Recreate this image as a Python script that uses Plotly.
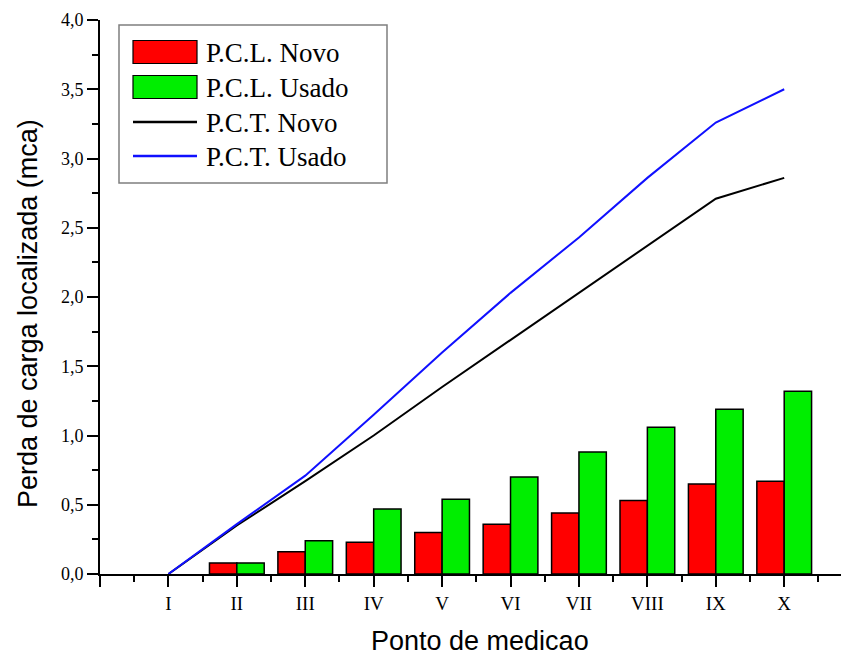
import plotly.graph_objects as go

# Measurement points (Roman numerals) and their positions on the x axis
pontos = ["I", "II", "III", "IV", "V", "VI", "VII", "VIII", "IX", "X"]
posicoes = [1, 2, 3, 4, 5, 6, 7, 8, 9, 10]

# Localized head loss per point (mca) - bars
pcl_novo = [None, 0.08, 0.16, 0.23, 0.30, 0.36, 0.44, 0.53, 0.65, 0.67]
pcl_usado = [None, 0.08, 0.24, 0.47, 0.54, 0.70, 0.88, 1.06, 1.19, 1.32]

# Cumulative head loss (mca) - lines
pct_novo = [0.0, 0.35, 0.67, 1.00, 1.35, 1.69, 2.03, 2.37, 2.71, 2.86]
pct_usado = [0.0, 0.36, 0.71, 1.15, 1.60, 2.03, 2.43, 2.86, 3.26, 3.50]

SERIF = "Liberation Serif, Times New Roman, serif"
SANS = "Liberation Sans, Arial, sans-serif"

W, H = 841, 656
L, R, T, B = 100, 0, 20, 82

fig = go.Figure()

fig.add_trace(go.Bar(
    x=posicoes, y=pcl_novo, name="P.C.L. Novo", offsetgroup="novo",
    marker=dict(color="#ff0000", line=dict(color="#000000", width=1.5)),
))
fig.add_trace(go.Bar(
    x=posicoes, y=pcl_usado, name="P.C.L. Usado", offsetgroup="usado",
    marker=dict(color="#00ee00", line=dict(color="#000000", width=1.5)),
))
fig.add_trace(go.Scatter(
    x=posicoes, y=pct_novo, name="P.C.T. Novo", mode="lines",
    line=dict(color="#000000", width=2),
))
fig.add_trace(go.Scatter(
    x=posicoes, y=pct_usado, name="P.C.T. Usado", mode="lines",
    line=dict(color="#1010ff", width=2),
))


# Helpers converting pixel positions to paper coordinates (plot area)
def pxx(x):
    return (x - L) / (W - L - R)


def pxy(y):
    return (H - B - y) / (H - T - B)


# Hand-drawn legend box
shapes = [dict(type="rect", xref="paper", yref="paper",
               x0=pxx(119), x1=pxx(387), y0=pxy(183), y1=pxy(25),
               fillcolor="white", line=dict(color="#7f7f7f", width=1.5))]
annotations = []
legend_rows = [
    ("bar", "#ff0000", "P.C.L. Novo", 52),
    ("bar", "#00ee00", "P.C.L. Usado", 87),
    ("line", "#000000", "P.C.T. Novo", 122),
    ("line", "#1010ff", "P.C.T. Usado", 156),
]
for kind, color, label, yc in legend_rows:
    if kind == "bar":
        shapes.append(dict(type="rect", xref="paper", yref="paper",
                           x0=pxx(133), x1=pxx(197), y0=pxy(yc + 11.5), y1=pxy(yc - 11.5),
                           fillcolor=color, line=dict(color="#000000", width=1.2)))
    else:
        shapes.append(dict(type="line", xref="paper", yref="paper",
                           x0=pxx(133), x1=pxx(197), y0=pxy(yc), y1=pxy(yc),
                           line=dict(color=color, width=2.5)))
    annotations.append(dict(xref="paper", yref="paper", x=pxx(204), y=pxy(yc + 1),
                            xanchor="left", yanchor="middle", showarrow=False,
                            text=label, font=dict(family=SERIF, size=27, color="#000000")))

# Axis titles
annotations.append(dict(xref="paper", yref="paper", x=pxx(480), y=pxy(641),
                        xanchor="center", yanchor="middle", showarrow=False,
                        text="Ponto de medicao",
                        font=dict(family=SANS, size=27, color="#000000")))
annotations.append(dict(xref="paper", yref="paper", x=pxx(28), y=pxy(314),
                        xanchor="center", yanchor="middle", showarrow=False,
                        textangle=-90, text="Perda de carga localizada (mca)",
                        font=dict(family=SANS, size=27, color="#000000")))

fig.update_layout(
    width=W, height=H,
    margin=dict(l=L, r=R, t=T, b=B, pad=0),
    paper_bgcolor="white", plot_bgcolor="white",
    barmode="group", bargap=0.2, bargroupgap=0.0,
    separators=", ",
    showlegend=False,
    shapes=shapes,
    annotations=annotations,
    xaxis=dict(
        range=[0, 10.83],
        tickmode="array", tickvals=[0] + posicoes, ticktext=[""] + pontos,
        ticks="outside", ticklen=11, tickwidth=1.5, tickcolor="#000000",
        minor=dict(tickmode="array", tickvals=[p - 0.5 for p in posicoes] + [10.5],
                   ticks="outside", ticklen=6, tickwidth=1.5, tickcolor="#000000"),
        showline=True, linecolor="#000000", linewidth=2,
        showgrid=False, zeroline=False,
        tickfont=dict(family=SERIF, size=19, color="#000000"),
    ),
    yaxis=dict(
        range=[0, 4.0],
        tickmode="linear", tick0=0, dtick=0.5, tickformat=".1f",
        ticks="outside", ticklen=11, tickwidth=1.5, tickcolor="#000000",
        minor=dict(dtick=0.25, tick0=0, ticks="outside", ticklen=6, tickwidth=1.5,
                   tickcolor="#000000"),
        showline=True, linecolor="#000000", linewidth=2,
        showgrid=False, zeroline=False,
        tickfont=dict(family=SERIF, size=18, color="#000000"),
    ),
)

fig.write_html("out.html")
